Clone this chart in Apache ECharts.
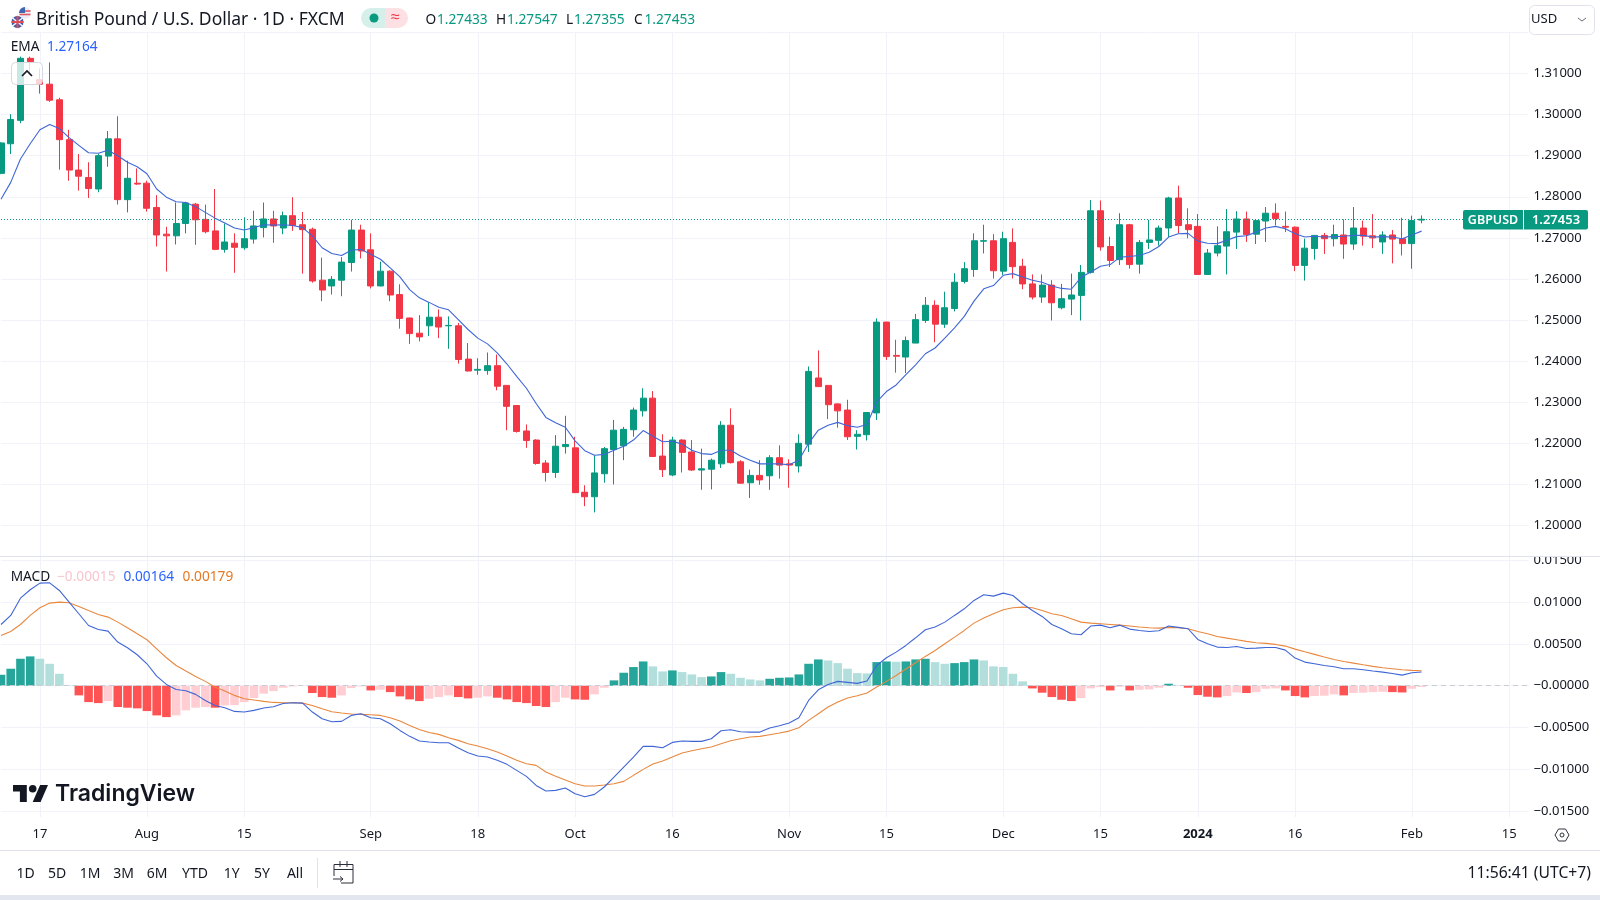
<!DOCTYPE html>
<html>
<head>
<meta charset="utf-8">
<style>html,body{margin:0;padding:0;background:#fff}#c{width:1600px;height:900px}</style>
<script src="https://cdn.jsdelivr.net/npm/echarts@6/dist/echarts.min.js"></script>
</head>
<body>
<div id="c"></div>
<script>
const opens = [1.2857,1.2929,1.2986,1.3137,1.3085,1.3074,1.3036,1.2939,1.2865,1.2847,
1.2819,1.2899,1.2941,1.2793,1.2833,1.2833,1.2774,1.2709,1.2705,1.2735,
1.2782,1.2745,1.2717,1.2672,1.2687,1.2676,1.2697,1.2725,1.2746,1.2724,
1.2754,1.2732,1.2721,1.2597,1.2583,1.2597,1.2640,1.2719,1.2671,1.2583,
1.2619,1.2562,1.2505,1.2468,1.2486,1.2507,1.2486,1.2486,1.2405,1.2378,
1.2377,1.2389,1.2341,1.2292,1.2230,1.2208,1.2152,1.2129,1.2192,1.2189,
1.2081,1.2070,1.2126,1.2185,1.2194,1.2233,1.2279,1.2310,1.2169,1.2123,
1.2208,1.2179,1.2135,1.2137,1.2150,1.2244,1.2155,1.2104,1.2122,1.2121,
1.2165,1.2150,1.2145,1.2198,1.2359,1.2341,1.2296,1.2281,1.2217,1.2221,
1.2274,1.2495,1.2414,1.2410,1.2444,1.2499,1.2536,1.2490,1.2528,1.2594,
1.2623,1.2692,1.2693,1.2619,1.2689,1.2631,1.2588,1.2556,1.2585,1.2530,
1.2551,1.2560,1.2616,1.2766,1.2679,1.2647,1.2732,1.2636,1.2689,1.2694,
1.2724,1.2797,1.2732,1.2728,1.2611,1.2663,1.2680,1.2714,1.2746,1.2709,
1.2741,1.2760,1.2728,1.2726,1.2633,1.2674,1.2706,1.2698,1.2707,1.2685,
1.2724,1.2705,1.2690,1.2707,1.2698,1.2686,1.27433];
const closes = [1.2931,1.2988,1.3137,1.3129,1.3074,1.3035,1.2939,1.2865,1.2850,1.2820,
1.2900,1.2941,1.2793,1.2845,1.2831,1.2772,1.2707,1.2705,1.2735,1.2785,
1.2744,1.2715,1.2672,1.2690,1.2677,1.2698,1.2729,1.2746,1.2729,1.2754,
1.2730,1.2720,1.2595,1.2573,1.2599,1.2641,1.2719,1.2668,1.2583,1.2619,
1.2561,1.2504,1.2467,1.2459,1.2507,1.2483,1.2487,1.2404,1.2376,1.2380,
1.2389,1.2339,1.2290,1.2229,1.2207,1.2151,1.2129,1.2193,1.2197,1.2080,
1.2070,1.2128,1.2187,1.2232,1.2234,1.2281,1.2310,1.2168,1.2136,1.2208,
1.2178,1.2135,1.2138,1.2159,1.2244,1.2153,1.2103,1.2122,1.2111,1.2165,
1.2147,1.2147,1.2200,1.2375,1.2338,1.2294,1.2279,1.2216,1.2222,1.2275,
1.2495,1.2411,1.2412,1.2450,1.2501,1.2536,1.2490,1.2530,1.2592,1.2625,
1.2693,1.2693,1.2620,1.2698,1.2630,1.2588,1.2556,1.2585,1.2542,1.2552,
1.2561,1.2616,1.2766,1.2678,1.2645,1.2732,1.2635,1.2689,1.2695,1.2724,
1.2797,1.2730,1.2720,1.2611,1.2663,1.2681,1.2715,1.2746,1.2708,1.2742,
1.2760,1.2747,1.2726,1.2633,1.2675,1.2706,1.2698,1.2708,1.2685,1.2724,
1.2704,1.2700,1.2707,1.2697,1.2686,1.2742,1.27453];
const highs = [1.2933,1.3001,1.3141,1.3141,1.3112,1.3127,1.3041,1.2963,1.2904,1.2884,
1.2904,1.2960,1.2996,1.2888,1.2869,1.2839,1.2804,1.2727,1.2786,1.2788,
1.2785,1.2781,1.2819,1.2735,1.2711,1.2750,1.2766,1.2786,1.2766,1.2764,
1.2799,1.2763,1.2725,1.2652,1.2607,1.2653,1.2744,1.2732,1.2711,1.2642,
1.2621,1.2587,1.2506,1.2512,1.2543,1.2526,1.2509,1.2493,1.2444,1.2407,
1.2421,1.2416,1.2341,1.2292,1.2246,1.2210,1.2159,1.2220,1.2267,1.2216,
1.2098,1.2171,1.2191,1.2257,1.2240,1.2287,1.2334,1.2327,1.2222,1.2216,
1.2210,1.2208,1.2187,1.2163,1.2254,1.2285,1.2159,1.2136,1.2159,1.2171,
1.2195,1.2161,1.2222,1.2387,1.2426,1.2341,1.2297,1.2306,1.2232,1.2275,
1.2504,1.2496,1.2452,1.2460,1.2515,1.2556,1.2548,1.2569,1.2614,1.2641,
1.2711,1.2732,1.2709,1.2715,1.2723,1.2649,1.2611,1.2611,1.2597,1.2588,
1.2613,1.2634,1.2792,1.2791,1.2703,1.2760,1.2734,1.2695,1.2744,1.2730,
1.2800,1.2827,1.2772,1.2758,1.2673,1.2728,1.2770,1.2765,1.2764,1.2746,
1.2775,1.2784,1.2764,1.2728,1.2698,1.2706,1.2712,1.2732,1.2745,1.2775,
1.2742,1.2758,1.2716,1.2719,1.2749,1.2754,1.27547];
const lows = [1.2855,1.2904,1.2979,1.3096,1.3051,1.3031,1.2866,1.2839,1.2815,1.2797,
1.2811,1.2873,1.2781,1.2762,1.2829,1.2764,1.2679,1.2618,1.2684,1.2711,
1.2683,1.2711,1.2670,1.2664,1.2615,1.2671,1.2686,1.2701,1.2688,1.2709,
1.2717,1.2613,1.2591,1.2546,1.2562,1.2558,1.2618,1.2650,1.2577,1.2582,
1.2546,1.2479,1.2442,1.2448,1.2461,1.2456,1.2430,1.2394,1.2375,1.2367,
1.2367,1.2329,1.2232,1.2226,1.2189,1.2148,1.2107,1.2116,1.2175,1.2079,
1.2047,1.2032,1.2104,1.2100,1.2159,1.2216,1.2265,1.2167,1.2118,1.2120,
1.2129,1.2133,1.2087,1.2088,1.2140,1.2151,1.2102,1.2067,1.2099,1.2087,
1.2114,1.2092,1.2129,1.2179,1.2337,1.2259,1.2238,1.2208,1.2185,1.2207,
1.2257,1.2403,1.2372,1.2371,1.2444,1.2493,1.2446,1.2481,1.2521,1.2589,
1.2605,1.2662,1.2601,1.2610,1.2601,1.2575,1.2550,1.2542,1.2499,1.2526,
1.2512,1.2499,1.2613,1.2669,1.2629,1.2634,1.2625,1.2613,1.2673,1.2681,
1.2702,1.2711,1.2699,1.2610,1.2610,1.2655,1.2611,1.2673,1.2690,1.2685,
1.2690,1.2730,1.2714,1.2619,1.2596,1.2647,1.2661,1.2679,1.2649,1.2671,
1.2681,1.2675,1.2661,1.2638,1.2657,1.2625,1.27355];
const emaValues = [1.2794,1.2835,1.2892,1.2929,1.2963,1.2976,1.2966,1.2944,1.2925,1.2907,
1.2906,1.2913,1.2900,1.2884,1.2873,1.2856,1.2819,1.2799,1.2788,1.2786,
1.2776,1.2762,1.2748,1.2736,1.2724,1.2719,1.2725,1.2732,1.2731,1.2732,
1.2730,1.2725,1.2705,1.2676,1.2662,1.2657,1.2670,1.2672,1.2660,1.2648,
1.2627,1.2605,1.2574,1.2554,1.2543,1.2531,1.2525,1.2501,1.2477,1.2456,
1.2442,1.2420,1.2393,1.2363,1.2334,1.2297,1.2263,1.2250,1.2239,1.2206,
1.2182,1.2171,1.2173,1.2183,1.2193,1.2208,1.2231,1.2217,1.2204,1.2205,
1.2198,1.2183,1.2175,1.2173,1.2183,1.2183,1.2169,1.2159,1.2150,1.2150,
1.2150,1.2148,1.2159,1.2200,1.2232,1.2244,1.2251,1.2243,1.2239,1.2246,
1.2301,1.2326,1.2342,1.2367,1.2391,1.2418,1.2432,1.2456,1.2481,1.2509,
1.2546,1.2576,1.2584,1.2609,1.2613,1.2605,1.2597,1.2592,1.2583,1.2577,
1.2575,1.2604,1.2617,1.2631,1.2635,1.2653,1.2655,1.2657,1.2665,1.2679,
1.2702,1.2710,1.2711,1.2692,1.2687,1.2686,1.2694,1.2703,1.2705,1.2714,
1.2724,1.2728,1.2722,1.2710,1.2702,1.2704,1.2702,1.2703,1.2704,1.2706,
1.2706,1.2702,1.2703,1.2702,1.2698,1.2707,1.27164];
const histValues = [0.00131,0.00203,0.00322,0.00350,0.00322,0.00262,0.00143,0.00004,-0.00115,-0.00195,
-0.00207,-0.00183,-0.00254,-0.00262,-0.00270,-0.00302,-0.00354,-0.00374,-0.00354,-0.00294,
-0.00262,-0.00254,-0.00262,-0.00235,-0.00231,-0.00195,-0.00147,-0.00095,-0.00064,-0.00024,
-0.00008,-0.00004,-0.00087,-0.00135,-0.00143,-0.00115,-0.00028,-0.00008,-0.00056,-0.00048,
-0.00076,-0.00127,-0.00163,-0.00183,-0.00155,-0.00135,-0.00115,-0.00135,-0.00151,-0.00143,
-0.00127,-0.00143,-0.00163,-0.00195,-0.00207,-0.00242,-0.00254,-0.00195,-0.00143,-0.00163,
-0.00167,-0.00103,-0.00024,0.00064,0.00155,0.00223,0.00290,0.00231,0.00171,0.00183,
0.00163,0.00135,0.00103,0.00111,0.00163,0.00143,0.00095,0.00075,0.00064,0.00083,
0.00095,0.00099,0.00135,0.00262,0.00314,0.00302,0.00270,0.00203,0.00151,0.00147,
0.00282,0.00290,0.00286,0.00290,0.00314,0.00322,0.00282,0.00262,0.00270,0.00282,
0.00314,0.00302,0.00231,0.00223,0.00143,0.00052,-0.00032,-0.00083,-0.00135,-0.00167,
-0.00183,-0.00147,-0.00032,-0.00016,-0.00056,-0.00012,-0.00056,-0.00048,-0.00044,-0.00024,
0.00024,0.00004,-0.00024,-0.00111,-0.00131,-0.00139,-0.00123,-0.00080,-0.00087,-0.00076,
-0.00036,-0.00032,-0.00056,-0.00123,-0.00139,-0.00123,-0.00119,-0.00103,-0.00115,-0.00087,
-0.00083,-0.00076,-0.00072,-0.00076,-0.00080,-0.00036,-0.00015];
const macdValues = [0.00731,0.00839,0.01045,0.01145,0.01224,0.01228,0.01137,0.00998,0.00859,0.00719,
0.00672,0.00652,0.00521,0.00453,0.00370,0.00262,0.00115,0.00016,-0.00044,-0.00060,
-0.00103,-0.00175,-0.00235,-0.00262,-0.00306,-0.00314,-0.00294,-0.00266,-0.00250,-0.00211,
-0.00203,-0.00207,-0.00314,-0.00394,-0.00429,-0.00425,-0.00354,-0.00334,-0.00382,-0.00394,
-0.00453,-0.00533,-0.00604,-0.00660,-0.00672,-0.00680,-0.00680,-0.00743,-0.00799,-0.00839,
-0.00851,-0.00890,-0.00938,-0.01010,-0.01081,-0.01189,-0.01256,-0.01248,-0.01220,-0.01288,
-0.01324,-0.01296,-0.01208,-0.01089,-0.00970,-0.00851,-0.00723,-0.00723,-0.00739,-0.00676,
-0.00660,-0.00664,-0.00664,-0.00632,-0.00537,-0.00525,-0.00549,-0.00553,-0.00553,-0.00505,
-0.00477,-0.00445,-0.00382,-0.00175,-0.00048,0.00016,0.00052,0.00040,0.00028,0.00056,
0.00242,0.00334,0.00401,0.00481,0.00572,0.00668,0.00700,0.00759,0.00839,0.00918,
0.01018,0.01085,0.01069,0.01105,0.01077,0.00978,0.00898,0.00827,0.00731,0.00680,
0.00620,0.00608,0.00712,0.00723,0.00692,0.00723,0.00676,0.00660,0.00648,0.00656,
0.00712,0.00696,0.00680,0.00553,0.00501,0.00461,0.00457,0.00469,0.00445,0.00449,
0.00457,0.00457,0.00425,0.00330,0.00282,0.00262,0.00242,0.00227,0.00203,0.00203,
0.00191,0.00175,0.00163,0.00147,0.00127,0.00155,0.00164];
const signalValues = [0.00600,0.00648,0.00731,0.00839,0.00930,0.00986,0.00998,0.00990,0.00946,0.00898,
0.00851,0.00819,0.00759,0.00692,0.00620,0.00549,0.00441,0.00334,0.00242,0.00175,
0.00111,0.00052,-0.00016,-0.00064,-0.00115,-0.00155,-0.00171,-0.00187,-0.00199,-0.00203,
-0.00203,-0.00207,-0.00235,-0.00274,-0.00310,-0.00326,-0.00338,-0.00342,-0.00346,-0.00354,
-0.00382,-0.00421,-0.00473,-0.00521,-0.00557,-0.00580,-0.00620,-0.00652,-0.00692,-0.00719,
-0.00751,-0.00791,-0.00839,-0.00890,-0.00930,-0.00950,-0.01030,-0.01081,-0.01125,-0.01169,
-0.01196,-0.01196,-0.01185,-0.01169,-0.01141,-0.01069,-0.00998,-0.00934,-0.00898,-0.00851,
-0.00803,-0.00775,-0.00751,-0.00731,-0.00692,-0.00656,-0.00632,-0.00612,-0.00604,-0.00584,
-0.00564,-0.00541,-0.00501,-0.00413,-0.00334,-0.00254,-0.00195,-0.00147,-0.00119,-0.00087,
-0.00016,0.00052,0.00123,0.00199,0.00274,0.00350,0.00421,0.00501,0.00580,0.00660,
0.00747,0.00807,0.00859,0.00906,0.00930,0.00938,0.00930,0.00898,0.00859,0.00839,
0.00799,0.00759,0.00747,0.00739,0.00731,0.00723,0.00712,0.00700,0.00692,0.00688,
0.00696,0.00692,0.00680,0.00648,0.00620,0.00588,0.00568,0.00549,0.00529,0.00513,
0.00505,0.00493,0.00473,0.00437,0.00405,0.00374,0.00342,0.00314,0.00290,0.00270,
0.00250,0.00231,0.00215,0.00203,0.00191,0.00183,0.00179];

const priceTicks = [1.20,1.21,1.22,1.23,1.24,1.25,1.26,1.27,1.28,1.29,1.30,1.31];
const macdTicks = [-0.015,-0.01,-0.005,0,0.005,0.01,0.015];
const tickDates = ['2023-07-17','2023-08-01','2023-08-15','2023-09-01','2023-09-18','2023-10-02','2023-10-16','2023-11-01','2023-11-15','2023-12-01','2023-12-15','2024-01-02','2024-01-16','2024-02-01','2024-02-15'];
const tickLabels = ['17','Aug','15','Sep','18','Oct','16','Nov','15','Dec','15','2024','16','Feb','15'];
const rangeButtons = ['1D','5D','1M','3M','6M','YTD','1Y','5Y','All'];
const marketClosed = ['2023-12-25','2024-01-01'];
const lastClose = 1.27453;

const categories = [];
for (let t = Date.UTC(2023,6,11); categories.length < 158; t += 86400000) {
  const d = new Date(t), s = d.toISOString().slice(0,10), w = d.getUTCDay();
  if (w !== 0 && w !== 6 && !marketClosed.includes(s)) categories.push(s);
}
const tickLabelOf = Object.fromEntries(tickDates.map((d,i)=>[d,tickLabels[i]]));
const isTick = (i, v) => v in tickLabelOf;

const UP='#089981', DOWN='#F23645', FONT='"Noto Sans", sans-serif', INK='#131722', GRID='#f1f3f8';
const candleData = opens.map((o,i)=>[o,closes[i],lows[i],highs[i]]);
const histColor = p => {
  const v=p.value, prev=p.dataIndex>0?histValues[p.dataIndex-1]:0;
  if (v>=0) return v>=prev?'#26A69A':'#B2DFDB';
  return v<prev?'#FF5252':'#FFCDD2';
};
const SP=9.73, LEFT=1, WIDTH=157*SP;
const xCommon = {type:'category',data:categories,boundaryGap:false,axisLine:{show:false},axisTick:{show:false},
  splitLine:{show:true,interval:isTick,lineStyle:{color:GRID,width:1}}};
const yCommon = {type:'value',position:'right',axisLine:{show:false},axisTick:{show:false},scale:true,
  splitLine:{show:true,lineStyle:{color:GRID,width:1}}};

const txt=(x,y,text,o={})=>({type:'text',x,y,silent:true,style:Object.assign({text,fill:INK,font:'14px '+FONT,textAlign:'left',textVerticalAlign:'middle'},o)});
const rect=(x,y,w,h,fill,o={})=>({type:'rect',silent:true,shape:{x,y,width:w,height:h,r:o.r||0},style:{fill,stroke:o.stroke||null,lineWidth:o.lw||1}});
const line=(x1,y1,x2,y2,stroke,lw=1)=>({type:'line',silent:true,shape:{x1,y1,x2,y2},style:{stroke,lineWidth:lw}});
const poly=(points,fill)=>({type:'polygon',silent:true,shape:{points},style:{fill}});
const pline=(points,stroke,lw=1)=>({type:'polyline',silent:true,shape:{points},style:{stroke,lineWidth:lw,fill:null}});

const LEG='13.7px '+FONT;
const btnX=[25.5,57,90,123.5,157,195,231.6,262,295];
const graphics=[
  // panel separators and bottom band
  rect(1526,548,74,8.5,'#fff'),
  line(0,556.5,1600,556.5,'#e0e3eb'),
  line(0,850.5,1600,850.5,'#e0e3eb'),
  rect(0,895,1600,5,'#e3e6ef'),
  // flags
  {type:'circle',silent:true,shape:{cx:25,cy:13,r:6},style:{fill:'#e9eef7'}},
  line(20,11,30.5,11,'#e0596a',1.6), line(19.5,14.5,30.5,14.5,'#e0596a',1.6),
  {type:'sector',silent:true,shape:{cx:25,cy:13,r:6,startAngle:Math.PI,endAngle:Math.PI*1.5},style:{fill:'#3f66b0'}},
  {type:'circle',silent:true,shape:{cx:17.5,cy:22,r:6.5},style:{fill:'#3d5fa8',stroke:'#fff',lineWidth:1}},
  line(12.5,18,22.5,26,'#f4f4f8',1.6), line(22.5,18,12.5,26,'#f4f4f8',1.6),
  line(17.5,16,17.5,28,'#e24a58',2), line(11.5,22,23.5,22,'#e24a58',2),
  // title
  txt(36,20,'British Pound / U.S. Dollar · 1D · FXCM',{font:'17.5px '+FONT}),
  // status pill
  {type:'rect',silent:true,shape:{x:361,y:8,width:24,height:20,r:[10,0,0,10]},style:{fill:'#d5f0ea'}},
  {type:'rect',silent:true,shape:{x:385,y:8,width:23,height:20,r:[0,10,10,0]},style:{fill:'#fce0e3'}},
  {type:'circle',silent:true,shape:{cx:374,cy:18,r:4.5},style:{fill:UP}},
  txt(395.5,17.5,'≈',{fill:DOWN,font:'16px '+FONT,textAlign:'center'}),
  // OHLC
  txt(425.5,20,'O',{font:LEG}),txt(437,20,'1.27433',{fill:UP,font:LEG}),
  txt(496,20,'H',{font:LEG}),txt(507,20,'1.27547',{fill:UP,font:LEG}),
  txt(566,20,'L',{font:LEG}),txt(574,20,'1.27355',{fill:UP,font:LEG}),
  txt(634,20,'C',{font:LEG}),txt(644.5,20,'1.27453',{fill:UP,font:LEG}),
  // legends
  txt(10.7,47,'EMA',{font:LEG}),txt(47,47,'1.27164',{fill:'#2962FF',font:LEG}),
  txt(10.7,577,'MACD',{font:LEG}),txt(57,577,'−0.00015',{fill:'#f7c6cf',font:LEG}),
  txt(123.5,577,'0.00164',{fill:'#2962FF',font:LEG}),txt(182.6,577,'0.00179',{fill:'#e8771f',font:LEG}),
  // collapse button
  rect(11.5,62.5,31,22,'rgba(255,255,255,0.78)',{r:4,stroke:'#d6d9e2'}),
  pline([[22,76],[27,71],[32,76]],INK,1.6),
  // currency box
  rect(1529.5,5.5,65,29,'#fff',{r:5,stroke:'#e0e3eb'}),
  txt(1531,19.5,'USD',{font:'13px '+FONT}),
  pline([[1578,18],[1582,21],[1586,18]],'#6a6d78'),
  // price tag
  rect(1463,210,125,19.5,UP,{r:2}),
  line(1523.5,210,1523.5,229.5,'#ffffff'),
  txt(1493,220.5,'GBPUSD',{fill:'#fff',font:'600 12.5px '+FONT,textAlign:'center'}),
  txt(1556,220.5,'1.27453',{fill:'#fff',font:'600 13px '+FONT,textAlign:'center'}),
  // logo
  poly([[13,785],[26.8,785],[26.8,802],[19.9,802],[19.9,791.6],[13,791.6]],INK),
  poly([[32.7,802],[40.1,785],[48,785],[40.6,802]],INK),
  {type:'circle',silent:true,shape:{cx:32.7,cy:788.8,r:3.8},style:{fill:INK}},
  txt(55,794.5,'TradingView',{font:'600 23px Inter, sans-serif'}),
  // settings icon
  {type:'polygon',silent:true,shape:{points:[[1555,835],[1558.5,829],[1565.5,829],[1569,835],[1565.5,841],[1558.5,841]]},style:{stroke:'#30333d',lineWidth:1,fill:null}},
  {type:'circle',silent:true,shape:{cx:1562,cy:835,r:2},style:{stroke:'#30333d',lineWidth:1,fill:null}},
  // toolbar
  ...rangeButtons.map((b,i)=>txt(btnX[i],874,b,{textAlign:'center',font:'14px '+FONT})),
  line(317.5,858,317.5,888,'#e0e3eb'),
  pline([[334,876],[334,864.5],[353,864.5],[353,883],[341,883]],'#2a2e39'),
  line(334,869.5,353,869.5,'#2a2e39'),
  line(340,861,340,867,'#2a2e39'),line(347,861,347,867,'#2a2e39'),
  line(333,879,343,879,'#2a2e39'),pline([[340,876.5],[343,879],[340,881.5]],'#2a2e39'),
  txt(1591,874,'11:56:41 (UTC+7)',{textAlign:'right',font:'15.7px '+FONT})
].map(e=>Object.assign(e,{z:20}));

const option={
  animation:false,
  backgroundColor:'#fff',
  textStyle:{fontFamily:FONT},
  grid:[
    {left:LEFT,width:WIDTH,top:32,height:524,containLabel:false},
    {left:LEFT,width:WIDTH,top:557,height:260,containLabel:false}
  ],
  xAxis:[
    Object.assign({},xCommon,{gridIndex:0,axisLabel:{show:false}}),
    Object.assign({},xCommon,{gridIndex:1,axisLabel:{show:true,interval:isTick,margin:11,color:INK,fontSize:13,fontFamily:FONT,
      formatter:v=>tickLabelOf[v]==='2024'?'{b|2024}':(tickLabelOf[v]||''),rich:{b:{fontWeight:'bold',fontSize:13,color:INK,fontFamily:FONT}}}})
  ],
  yAxis:[
    Object.assign({},yCommon,{gridIndex:0,min:1.19258,max:1.3201,
      axisTick:{show:false,customValues:[...priceTicks,1.32]},
      axisLabel:{customValues:priceTicks,margin:5,align:'left',padding:[3,0,0,0],color:INK,fontSize:13,fontFamily:FONT,formatter:v=>v.toFixed(5)}}),
    Object.assign({},yCommon,{gridIndex:1,min:-0.01566,max:0.01536,
      axisTick:{show:false,customValues:macdTicks},
      axisLabel:{customValues:macdTicks,margin:5,align:'left',padding:[2,0,0,0],color:INK,fontSize:13,fontFamily:FONT,
        formatter:v=>(v<=0?'−':'')+Math.abs(v).toFixed(5)}})
  ],
  series:[
    {type:'candlestick',xAxisIndex:0,yAxisIndex:0,data:candleData,barWidth:6.5,
      itemStyle:{color:UP,color0:DOWN,borderColor:UP,borderColor0:DOWN,borderWidth:1},
      markLine:{silent:true,symbol:'none',precision:5,label:{show:false},
        lineStyle:{color:UP,type:[1,2],width:1},data:[{yAxis:lastClose}]}},
    {type:'line',xAxisIndex:0,yAxisIndex:0,data:emaValues,showSymbol:false,lineStyle:{color:'#3f66d6',width:1.1},z:5},
    {type:'bar',xAxisIndex:1,yAxisIndex:1,data:histValues,barWidth:8.6,itemStyle:{color:histColor},
      markLine:{silent:true,symbol:'none',precision:5,label:{show:false},
        lineStyle:{color:'#c9ccd4',type:[5,4],width:1},data:[{yAxis:0}]}},
    {type:'line',xAxisIndex:1,yAxisIndex:1,data:signalValues,showSymbol:false,lineStyle:{color:'#e8883f',width:1.1},z:5},
    {type:'line',xAxisIndex:1,yAxisIndex:1,data:macdValues,showSymbol:false,lineStyle:{color:'#3f66d6',width:1.1},z:6}
  ],
  graphic:{elements:graphics}
};
echarts.init(document.getElementById('c'),null,{renderer:'canvas'}).setOption(option);
</script>
</body>
</html>
